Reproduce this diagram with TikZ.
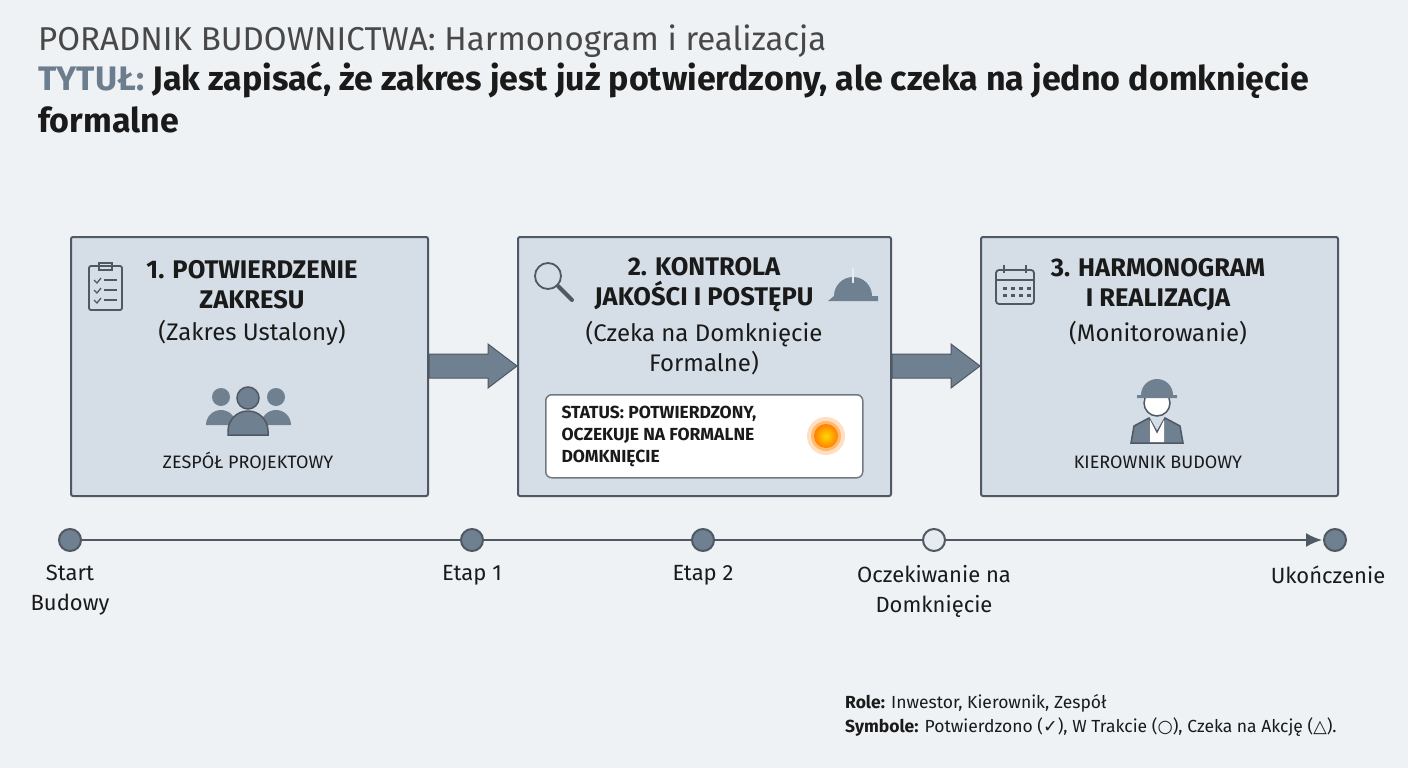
\documentclass[tikz,border=0pt]{standalone}
\usepackage{fontspec}
\setmainfont{Fira Sans}
\newfontfamily\sym{DejaVu Sans}
\usetikzlibrary{calc,arrows.meta}
\definecolor{bg}{HTML}{EEF2F5}
\definecolor{boxf}{HTML}{D5DEE7}
\definecolor{boxd}{HTML}{4F5863}
\definecolor{arr}{HTML}{6F8091}
\definecolor{ttl}{HTML}{6C7D8E}
\definecolor{ink}{HTML}{1A1A1A}
\tikzset{
 stage/.style={draw=boxd,line width=2pt,fill=boxf,rounded corners=2pt,minimum height=259pt,anchor=north west},
 bigarr/.style={draw=boxd,line width=1pt,fill=arr},
 dot/.style={circle,draw=boxd,line width=2pt,fill=arr,minimum size=22pt,inner sep=0pt},
 htext/.style={font=\fontsize{25.5}{30}\selectfont\bfseries,align=center,text=ink},
 stext/.style={font=\fontsize{24}{30}\selectfont,align=center,text=ink},
 rtext/.style={font=\fontsize{18}{20}\selectfont,text=ink},
 tl/.style={font=\fontsize{22}{30}\selectfont,align=center,text=ink},
 icon/.style={draw=boxd,line width=1.8pt}
}
\begin{document}
\begin{tikzpicture}[x=1pt,y=-1pt]
\fill[bg] (0,0) rectangle (1408,768);
\useasboundingbox (0,0) rectangle (1408,768);
\node[anchor=north west,inner sep=0pt,font=\fontsize{33}{38}\selectfont,text=ink!80] (t1) at (38,25) {PORADNIK BUDOWNICTWA: Harmonogram i realizacja};
\node[anchor=north west,inner sep=0pt,font=\fontsize{34}{42}\selectfont\bfseries,align=left,text=ink] (t2) at (38,62) {{\color{ttl}TYTUŁ:} Jak zapisać, że zakres jest już potwierdzony, ale czeka na jedno domknięcie\\formalne};
% boxes
\node[stage,minimum width=357pt] (b1) at (70,236) {};
\node[stage,minimum width=373pt] (b2) at (517,236) {};
\node[stage,minimum width=357pt] (b3) at (980,236) {};
\draw[bigarr] (b1.east |- 0,354) -- (488,354) -- (488,344) -- (b2.west |- 0,366) -- (488,388) -- (488,378) -- (b1.east |- 0,378) -- cycle;
\draw[bigarr] (b2.east |- 0,354) -- (951,354) -- (951,344) -- (b3.west |- 0,366) -- (951,388) -- (951,378) -- (b2.east |- 0,378) -- cycle;
% box1
\node[htext] (h1) at (252,285) {1. POTWIERDZENIE\\ZAKRESU};
\node[stext] (s1) at (252,333) {(Zakres Ustalony)};
\node[rtext] (r1) at (248,462) {ZESPÓŁ PROJEKTOWY};
% clipboard icon
\draw[icon,rounded corners=2pt] (89,266) rectangle (122,310);
\draw[icon] (99,263) rectangle (112,270);
\foreach \yy in {280,290,300}{\draw[boxd,line width=1.3pt] (94,\yy) -- (97,\yy+3) -- (101,\yy-2); \draw[boxd,line width=1.3pt] (104,\yy) -- (117,\yy);}
% people icon
\fill[arr] (221,397) circle (9); \fill[arr] (276,397) circle (9);
\fill[arr] (206,425) arc[start angle=180,end angle=360,radius=15] -- cycle;
\fill[arr] (261,425) arc[start angle=180,end angle=360,radius=15] -- cycle;
\draw[boxd,fill=arr,line width=1.5pt] (248,398) circle (11);
\draw[boxd,fill=arr,line width=1.5pt] (228,435) -- (228,431) arc[start angle=180,end angle=360,radius=20] -- (268,435) -- cycle;
% box2
\node[htext] (h2) at (704,285) {2. KONTROLA\\JAKOŚCI I POSTĘPU};
\node[stext] (s2) at (704,348) {(Czeka na Domknięcie\\Formalne)};
\draw[icon] (548,276) circle (13); \draw[boxd,line width=4pt,line cap=round] (558,286) -- (572,300);
\fill[arr] (834,296) arc[start angle=180,end angle=360,radius=19] -- (878,296) -- (878,301) -- (828,301) -- cycle;
\draw[bg!70!boxf,line width=1.5pt] (853,268) -- (853,283);
% status
\node[draw=boxd!80,line width=1.5pt,fill=white,rounded corners=6pt,minimum width=317pt,minimum height=83pt,anchor=north west] (st) at (545,394) {};
\node[anchor=west,font=\fontsize{17.5}{22}\selectfont\bfseries,align=left,text=ink] (stt) at (558,436) {STATUS: POTWIERDZONY,\\OCZEKUJE NA FORMALNE\\DOMKNIĘCIE};
\fill[orange!25] (826,436) circle (19);
\fill[orange!55] (826,436) circle (15);
\shade[inner color=yellow!70!orange,outer color=orange] (826,436) circle (12);
% box3
\node[htext] (h3) at (1158,285) {3. HARMONOGRAM\\I REALIZACJA};
\node[stext] (s3) at (1158,333) {(Monitorowanie)};
\node[rtext] (r3) at (1158,462) {KIEROWNIK BUDOWY};
\draw[icon,rounded corners=3pt] (996,270) rectangle (1034,304);
\draw[icon] (996,280) -- (1034,280);
\draw[boxd,line width=2pt] (1004,265) -- (1004,273) (1026,265) -- (1026,273);
\foreach \xx in {1003,1011,1019,1027}{\foreach \yy in {287,294}{\fill[boxd] (\xx,\yy) rectangle ++(4,3);}}
% worker
\draw[boxd,line width=1.5pt,fill=white] (1157,403) circle (13);
\fill[arr] (1141,395) arc[start angle=180,end angle=360,radius=16] -- (1177,395) -- (1177,398) -- (1137,398) -- (1137,395) -- cycle;
\draw[boxd,line width=1.5pt,fill=arr] (1131,443) -- (1134,426) -- (1149,418) -- (1157,432) -- (1165,418) -- (1180,426) -- (1183,443) -- cycle;
\fill[white] (1150,420) -- (1157,434) -- (1164,420) -- (1164,442) -- (1150,442) -- cycle;
% timeline
\node[dot] (d1) at (70,540) {};
\node[dot] (d2) at (472,540) {};
\node[dot] (d3) at (703,540) {};
\node[dot,fill=boxf!60] (d4) at (934,540) {};
\node[dot] (d5) at (1335,540) {};
\draw[boxd,line width=2pt] (d1) -- (d2);
\draw[boxd,line width=2pt] (d2) -- (d3);
\draw[boxd,line width=2pt] (d3) -- (d4);
\draw[boxd,line width=2pt,-{Latex[length=16pt,width=14pt]},shorten >=1pt] (d4) -- (d5);
\node[tl,anchor=north] (l1) at (70,562) {Start\\Budowy};
\node[tl,anchor=north] (l2) at (472,562) {Etap 1};
\node[tl,anchor=north] (l3) at (703,562) {Etap 2};
\node[tl,anchor=north] (l4) at (934,562) {Oczekiwanie na\\Domknięcie};
\node[tl,anchor=north] (l5) at (1328,562) {Ukończenie};
% legend
\node[anchor=north west,inner sep=0pt,font=\fontsize{17.5}{24}\selectfont,align=left,text=ink] (leg) at (845,694) {\textbf{Role:} Inwestor, Kierownik, Zespół\\\textbf{Symbole:} Potwierdzono ({\sym ✓}), W Trakcie ({\sym ○}), Czeka na Akcję ({\sym △}).};
\end{tikzpicture}
\end{document}
